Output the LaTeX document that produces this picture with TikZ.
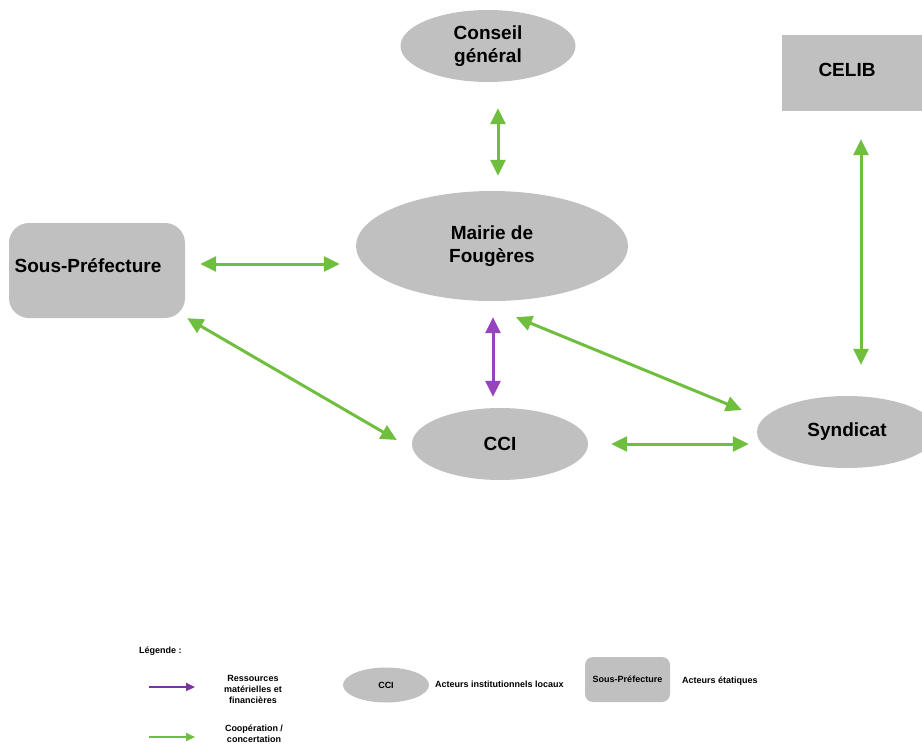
\documentclass[tikz,border=0pt]{standalone}
\usepackage{fontspec}
\setmainfont{Liberation Sans}
\usepackage{tikz}
\usetikzlibrary{arrows.meta,calc,shapes.geometric}
\definecolor{coopgreen}{RGB}{112,190,62}
\definecolor{respurple}{RGB}{150,68,188}
\definecolor{legpurple}{RGB}{122,52,160}
\definecolor{actgray}{RGB}{192,192,192}

\begin{document}
\begin{tikzpicture}[
  x=1pt, y=-1pt,
  font=\fontsize{19}{23}\selectfont\bfseries,
  loc/.style={ellipse, fill=actgray, inner sep=0pt, align=center},
  etat/.style={rectangle, fill=actgray, inner sep=0pt, align=center},
  leg/.style={font=\fontsize{9}{11}\selectfont\bfseries, align=center, inner sep=0pt},
  coop/.style={{Triangle[length=16pt,width=15pt]}-{Triangle[length=16pt,width=15pt]}, line width=3pt, coopgreen},
  res/.style={{Triangle[length=16pt,width=15pt]}-{Triangle[length=16pt,width=15pt]}, line width=3pt, respurple},
  legarr/.style={-{Triangle[length=9pt,width=8pt]}, line width=2pt}]
\useasboundingbox (0,0) rectangle (922,744);
\clip (0,0) rectangle (922,744);
% acteurs
\node[loc, minimum width=175pt, minimum height=72pt] (conseil) at (488,46) {Conseil\\général};
\node[etat, minimum width=140pt, minimum height=76pt] (celib) at (852,73) {\raisebox{6pt}{CELIB}\hspace*{10pt}};
\node[loc, minimum width=272pt, minimum height=110pt] (mairie) at (492,246) {Mairie de\\Fougères};
\node[etat, rounded corners=20pt, minimum width=176pt, minimum height=95pt] (souspref) at (97,270.5) {\raisebox{10pt}{Sous-Préfecture}\hspace*{18pt}};
\node[loc, minimum width=176pt, minimum height=72pt] (cci) at (500,444) {CCI};
\node[loc, minimum width=180pt, minimum height=72pt] (syndicat) at (847,432) {Syndicat};
% relations
\draw[coop] ($(conseil.south)+(10,26)$) -- ($(mairie.north)+(6,-15)$);
\draw[coop] ($(celib.south)+(9,28)$) -- ($(syndicat.north)+(14,-31)$);
\draw[coop] ($(souspref.east)+(15,-6.5)$) -- ($(mairie.west)+(-16,18)$);
\draw[coop] ($(souspref.south east)+(2,0)$) -- ($(cci.west)+(-15,-4)$);
\draw[res] ($(mairie.south)+(1,16)$) -- ($(cci.north)+(-7,-11)$);
\draw[coop] ($(mairie.south)+(24,16)$) -- ($(syndicat.west)+(-15,-22)$);
\draw[coop] ($(cci.east)+(23,0)$) -- ($(syndicat.west)+(-8,12)$);
% légende
\node[leg, anchor=west] (legtitle) at (139,651) {Légende :};
\coordinate (lp1) at (149,687);
\coordinate (lp2) at (195,687);
\draw[legarr, legpurple] (lp1) -- (lp2);
\node[leg] (legres) at (253,689) {Ressources\\matérielles et\\financières};
\node[loc, leg, minimum width=86pt, minimum height=35pt] (legcci) at (386,685) {CCI};
\node[leg, anchor=west] (legloc) at (435,684) {Acteurs institutionnels locaux};
\node[etat, leg, rounded corners=8pt, minimum width=85pt, minimum height=45pt] (legsp) at (627.5,679.5) {Sous-Préfecture};
\node[leg, anchor=west] (legetat) at (682,681) {Acteurs étatiques};
\coordinate (lg1) at (149,737);
\coordinate (lg2) at (195,737);
\draw[legarr, coopgreen] (lg1) -- (lg2);
\node[leg] (legcoop) at (254,734) {Coopération /\\concertation};
\end{tikzpicture}
\end{document}
